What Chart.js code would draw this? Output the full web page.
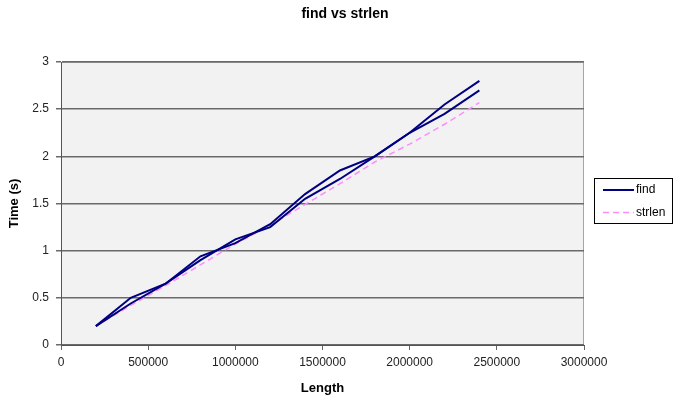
<!DOCTYPE html>
<html>
<head>
<meta charset="utf-8">
<script src="https://cdn.jsdelivr.net/npm/chart.js@4/dist/chart.umd.min.js"></script>
<style>
  body { margin: 0; background: #ffffff; }
  canvas { display: block; }
</style>
</head>
<body>
<canvas id="chart" width="680" height="402"></canvas>
<script>
// Data
const lengths = [200000, 400000, 600000, 800000, 1000000, 1200000, 1400000, 1600000, 1800000, 2000000, 2200000, 2400000];
const findRun1 = [0.2, 0.5, 0.65, 0.94, 1.08, 1.28, 1.6, 1.85, 2.0, 2.25, 2.55, 2.8];
const findRun2 = [0.2, 0.44, 0.65, 0.9, 1.12, 1.25, 1.55, 1.76, 2.0, 2.25, 2.45, 2.7];
const strlenTimes = [0.2, 0.42, 0.63, 0.85, 1.07, 1.27, 1.49, 1.71, 1.94, 2.13, 2.34, 2.57];
const xTicks = [0, 500000, 1000000, 1500000, 2000000, 2500000, 3000000];
const yTicks = [0, 0.5, 1, 1.5, 2, 2.5, 3];
const chartTitle = "find vs strlen";

const font = "'Liberation Sans', Arial, sans-serif";
const navy = "#000080";
const pink = "#ff8cff";

const toPoints = (ys) => lengths.map((x, i) => ({ x: x, y: ys[i] }));

// Grey plot area behind everything
const plotBackground = {
  id: "plotBackground",
  beforeDraw(chart) {
    const { ctx, chartArea: a } = chart;
    ctx.save();
    ctx.fillStyle = "#f2f2f2";
    ctx.fillRect(a.left, a.top, a.right - a.left, a.bottom - a.top);
    ctx.strokeStyle = "#a6a6a6";
    ctx.lineWidth = 1;
    ctx.strokeRect(a.left + 0.5, a.top + 0.5, a.right - a.left - 1, a.bottom - a.top - 1);
    ctx.restore();
  },
};

// Title centred on the whole picture and a boxed legend on the right
const overlay = {
  id: "overlay",
  afterDraw(chart) {
    const ctx = chart.ctx;
    ctx.save();
    ctx.fillStyle = "#000000";
    ctx.font = "bold 14px " + font;
    ctx.textAlign = "center";
    ctx.textBaseline = "middle";
    ctx.fillText(chartTitle, 345, 14);

    const items = chart.data.datasets.filter((d) => d.inLegend);
    ctx.strokeStyle = "#000000";
    ctx.lineWidth = 1;
    ctx.strokeRect(594.5, 178.5, 78, 45);
    ctx.font = "12px " + font;
    ctx.textAlign = "left";
    items.forEach((d, i) => {
      const y = 190 + i * 22.5;
      ctx.beginPath();
      ctx.strokeStyle = d.borderColor;
      ctx.lineWidth = d.borderWidth;
      ctx.setLineDash(d.borderDash || []);
      ctx.moveTo(603, y);
      ctx.lineTo(634, y);
      ctx.stroke();
      ctx.setLineDash([]);
      ctx.fillStyle = "#000000";
      ctx.fillText(d.label, 636, y);
    });
    ctx.restore();
  },
};

const myChart = new Chart(document.getElementById("chart"), {
  type: "scatter",
  plugins: [plotBackground, overlay],
  data: {
    datasets: [
      {
        label: "find",
        inLegend: true,
        data: toPoints(findRun1),
        showLine: true,
        borderColor: navy,
        borderWidth: 2,
        pointRadius: 0,
      },
      {
        label: "find",
        inLegend: false,
        data: toPoints(findRun2),
        showLine: true,
        borderColor: navy,
        borderWidth: 2,
        pointRadius: 0,
      },
      {
        label: "strlen",
        inLegend: true,
        data: toPoints(strlenTimes),
        showLine: true,
        borderColor: pink,
        borderWidth: 1.5,
        borderDash: [6, 4],
        pointRadius: 0,
      },
    ],
  },
  options: {
    responsive: false,
    animation: false,
    devicePixelRatio: 1,
    layout: { padding: { left: 0, right: 96, top: 62, bottom: 0 } },
    plugins: {
      legend: { display: false },
      tooltip: { enabled: false },
      title: { display: false },
    },
    scales: {
      x: {
        type: "linear",
        min: 0,
        max: 3000000,
        afterFit: (s) => { s.height = 57; },
        afterBuildTicks: (s) => { s.ticks = xTicks.map((v) => ({ value: v })); },
        ticks: {
          color: "#222222",
          font: { family: font, size: 12 },
          padding: 5,
          maxRotation: 0,
          callback: (v) => String(v),
        },
        grid: { drawOnChartArea: false, drawTicks: true, tickLength: 5, color: "#666666" },
        border: { color: "#555555" },
        title: {
          display: true,
          text: "Length",
          color: "#000000",
          font: { family: font, size: 13, weight: "bold" },
          padding: { top: 4, bottom: 6 },
        },
      },
      y: {
        min: 0,
        max: 3,
        afterFit: (s) => { s.width = 61; },
        afterBuildTicks: (s) => { s.ticks = yTicks.map((v) => ({ value: v })); },
        ticks: {
          color: "#222222",
          font: { family: font, size: 12 },
          padding: 7,
          callback: (v) => String(v),
        },
        grid: { color: "#6a6a6a", lineWidth: 1.5, tickLength: 5 },
        border: { color: "#555555" },
        title: {
          display: true,
          text: "Time (s)",
          color: "#000000",
          font: { family: font, size: 13, weight: "bold" },
          padding: { top: 7, bottom: 4 },
        },
      },
    },
  },
});
</script>
</body>
</html>
